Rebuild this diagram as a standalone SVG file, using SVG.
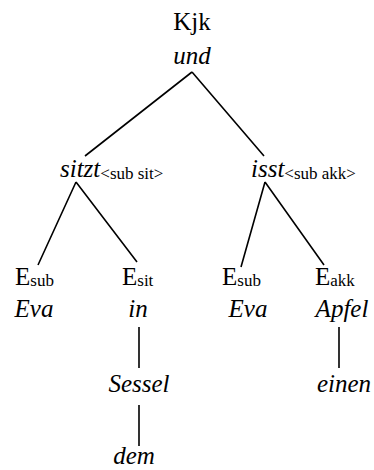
<svg xmlns="http://www.w3.org/2000/svg" width="374" height="470" viewBox="0 0 374 470">
<style>
text{font-family:"Liberation Serif","Times New Roman",serif;fill:#000;font-size:25px}
.i{font-style:italic}
.s{font-size:17px;font-style:normal}
.e{stroke:#000;stroke-width:1.6;fill:none}
</style>
<rect width="374" height="470" fill="#fff"/>
<g id="connectors">
<path class="e" d="M192 72L85 156M192 72L264 156"/>
<path class="e" d="M76 182L38 265M76 182L137 262"/>
<path class="e" d="M265 182L241 267M265 182L324 265"/>
<path class="e" d="M139 327V368M139 405V446M339 327V368"/>
</g>
<g id="kjk"><text x="192" y="30" text-anchor="middle">Kjk</text><text class="i" x="192" y="64" text-anchor="middle">und</text></g>
<g id="sitzt"><text x="60" y="177"><tspan class="i">sitzt</tspan><tspan class="s" dy="2">&lt;sub sit&gt;</tspan></text></g>
<g id="isst"><text x="251" y="177"><tspan class="i">isst</tspan><tspan class="s" dy="2">&lt;sub akk&gt;</tspan></text></g>
<g id="esub1"><text x="15" y="285">E<tspan class="s" dy="1">sub</tspan></text><text class="i" x="34" y="317" text-anchor="middle">Eva</text></g>
<g id="esit"><text x="122" y="285">E<tspan class="s" dy="1">sit</tspan></text><text class="i" x="138" y="317" text-anchor="middle">in</text></g>
<g id="esub2"><text x="222" y="285">E<tspan class="s" dy="1">sub</tspan></text><text class="i" x="248" y="317" text-anchor="middle">Eva</text></g>
<g id="eakk"><text x="315" y="285">E<tspan class="s" dy="1">akk</tspan></text><text class="i" x="342" y="317" text-anchor="middle">Apfel</text></g>
<g id="sessel"><text class="i" x="139" y="392" text-anchor="middle">Sessel</text></g>
<g id="dem"><text class="i" x="134" y="464" text-anchor="middle">dem</text></g>
<g id="einen"><text class="i" x="344" y="392" text-anchor="middle">einen</text></g>
</svg>
